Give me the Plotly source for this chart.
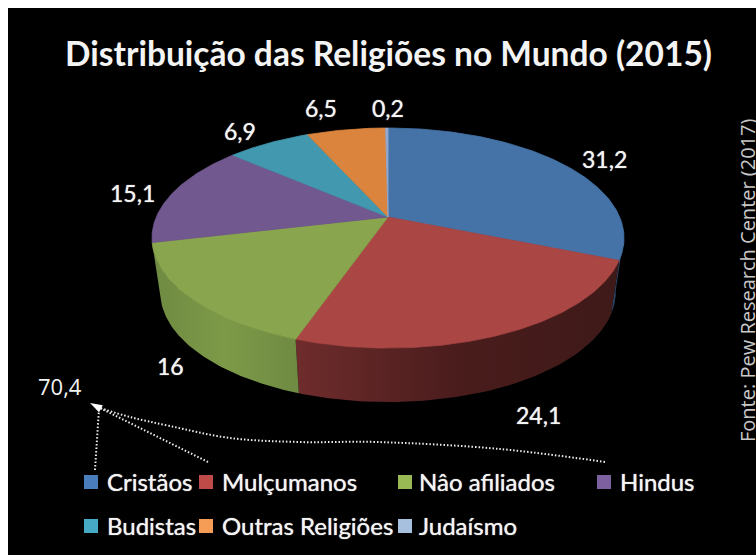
import numpy as np
import plotly.graph_objects as go

W, H = 756, 555
OFFSET = 8  # page margin around the figure
categories = ["Cristãos", "Mulçumanos", "Nâo afiliados", "Hindus", "Budistas", "Outras Religiões", "Judaísmo"]
values = [31.2, 24.1, 16, 15.1, 6.9, 6.5, 0.2]
value_labels = ["31,2", "24,1", "16", "15,1", "6,9", "6,5", "0,2"]
top_colors = ["#4573A7", "#AA4644", "#89A54E", "#71588F", "#4198AF", "#DB843D", "#93A9CF"]
legend_colors = ["#4A7DBB", "#BE4B48", "#98B954", "#7D60A0", "#46AAC5", "#F59D56", "#A7C0DE"]
side_colors = [["#2a4466", "#2a4466"], ["#6f2c2c", "#4a1c1c", "#3e1a18"], ["#6f8a42", "#7d9a48", "#6f8a42"],
               ["#4a3a60", "#4a3a60"], ["#2a6070", "#2a6070"], ["#8a5526", "#8a5526"], ["#5a6a80", "#5a6a80"]]
label_xy = [(604, 159), (538, 415), (170, 366), (132, 193), (240, 131), (321, 108), (388, 108)]
title = "Distribuição das Religiões no Mundo (2015)"
total_label = "70,4"
source = "Fonte: Pew Research Center (2017)"
legend_square_x = [84, 199, 398, 597, 84, 199, 398]
legend_text_x = [105, 220, 417, 618, 105, 220, 417]
legend_y = [481, 481, 481, 481, 525, 525, 525]

CX, CY, C, B, K, DEPTH, SHRINK = 388, 217, 231.7, 106, 0.191, 54, 0.965

def rim(t):
    u, v = np.sin(t), np.cos(t)
    d = 1 + K * v
    return CX + C * u / d, CY - B * v / d

fracs = np.array(values) / sum(values)
edges = np.concatenate([[0], np.cumsum(fracs)]) * 2 * np.pi

fig = go.Figure()

# Side wall: visible front part of the rim only
vis0, vis1 = np.radians(100), edges[3]
for i in range(len(values)):
    a, b = max(edges[i], vis0), min(edges[i + 1], vis1)
    if b <= a:
        continue
    t = np.linspace(a, b, 80)
    x, y = rim(t)
    xb = CX + (x - CX) * SHRINK
    yb = y + DEPTH
    cs = side_colors[i]
    scale = [[j / (len(cs) - 1), c] for j, c in enumerate(cs)]
    fig.add_trace(go.Scatter(
        x=np.concatenate([x, xb[::-1]]), y=np.concatenate([y, yb[::-1]]),
        mode="lines", line=dict(width=0), fill="toself",
        fillgradient=dict(type="horizontal", colorscale=scale),
        hoverinfo="skip", showlegend=False))

# Top face
for i in range(len(values)):
    t = np.linspace(edges[i], edges[i + 1], 120)
    x, y = rim(t)
    fig.add_trace(go.Scatter(
        x=np.concatenate([[CX], x, [CX]]), y=np.concatenate([[CY], y, [CY]]),
        mode="lines", line=dict(width=0.8, color=top_colors[i]), fill="toself",
        fillcolor=top_colors[i], hoverinfo="skip", showlegend=False))

# Legend squares
for i, c in enumerate(legend_colors):
    fig.add_trace(go.Scatter(
        x=[legend_square_x[i] + 7], y=[legend_y[i] + 1], mode="markers",
        marker=dict(symbol="square", size=14, color=c, line=dict(width=0)),
        hoverinfo="skip", showlegend=False))

ann = []
SOFT = "0 0 1px rgba(255,255,255,0.9)"
def text(x, y, s, size, font="Lato", color="#F4F4F4", xanchor="center", shadow="none", **kw):
    ann.append(dict(x=x, y=y, text=s, showarrow=False, xref="x", yref="y",
                    xanchor=xanchor, yanchor="middle",
                    font=dict(family=font, size=size, color=color, shadow=shadow), **kw))

text(388, 53, "<b>%s</b>" % title, 33.5)
for (x, y), s in zip(label_xy, value_labels):
    text(x, y, s, 23, shadow=SOFT)
for i, s in enumerate(categories):
    text(legend_text_x[i], legend_y[i], s, 24, xanchor="left", shadow=SOFT)
text(60, 386, total_label, 22, font="Open Sans")
text(747, 280, source, 20, font="Open Sans", color="#C8C8C8", textangle=-90)

# Dotted arrows to the total
tip = (90, 403)
arrow_x = [[95, 99], [208, 100]]
arrow_y = [[470, 409], [462, 408]]
curve_x = [605, 500, 377, 299, 230, 170, 130, 100]
curve_y = [462, 449, 442, 442, 438, 426, 417, 408]
for xs, ys in zip(arrow_x + [curve_x], arrow_y + [curve_y]):
    fig.add_trace(go.Scatter(x=xs, y=ys, mode="lines",
                             line=dict(color="#EEEEEE", width=2, dash="1.5px 2px",
                                       shape="spline" if len(xs) > 2 else "linear"),
                             hoverinfo="skip", showlegend=False))
fig.add_trace(go.Scatter(x=[tip[0]], y=[tip[1]], mode="markers",
                         marker=dict(symbol="arrow", angle=-62, size=13, color="white", line=dict(width=0)),
                         hoverinfo="skip", showlegend=False))

fig.update_layout(
    width=W - OFFSET, height=H - OFFSET, margin=dict(l=0, r=0, t=0, b=0), showlegend=False,
    paper_bgcolor="#000000", plot_bgcolor="#000000", annotations=ann,
    xaxis=dict(range=[OFFSET, W], visible=False, fixedrange=True),
    yaxis=dict(range=[H, OFFSET], visible=False, fixedrange=True),
)
fig.write_html("out.html", default_width="%dpx" % (W - OFFSET), default_height="%dpx" % (H - OFFSET),
               post_script="document.body.style.marginRight='0px';document.body.style.width='748px';")
